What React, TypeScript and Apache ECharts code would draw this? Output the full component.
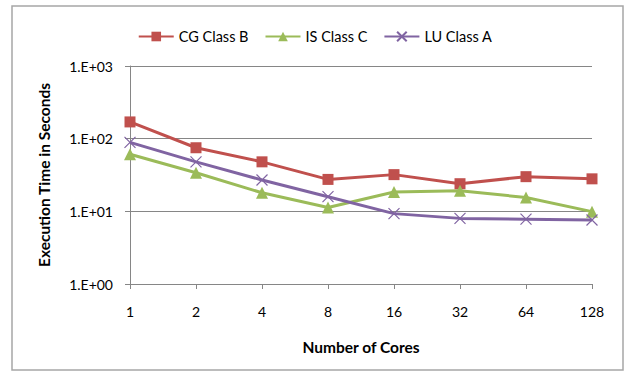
import React, { useEffect, useRef } from "react";
import * as echarts from "echarts";

const categories = ["1", "2", "4", "8", "16", "32", "64", "128"];
const cgClassB = [170, 75, 48, 27.5, 32, 24, 30, 28];
const isClassC = [61, 34, 18, 11.3, 18.5, 19.2, 15.5, 9.9];
const luClassA = [89, 48, 27, 15.9, 9.3, 8.0, 7.8, 7.6];
const seriesNames = ["CG Class B", "IS Class C", "LU Class A"];

const FONT = "Lato";

export default function App() {
  const ref = useRef<HTMLDivElement>(null);
  useEffect(() => {
    const chart = echarts.init(ref.current!, null, { renderer: "svg" });
    const crossPath = "path://M0,0L10,10M10,0L0,10";
    chart.setOption({
      animation: false,
      backgroundColor: "#fff",
      textStyle: { fontFamily: FONT },
      graphic: [
        {
          type: "rect",
          shape: { x: 12, y: 6, width: 611, height: 364 },
          style: { fill: "none", stroke: "#a6a6a6", lineWidth: 1.5 },
          silent: true,
        },
      ],
      legend: {
        top: 24,
        left: "center",
        itemWidth: 35,
        itemHeight: 12,
        itemGap: 16,
        textStyle: { fontFamily: FONT, fontSize: 14.5, color: "#000" },
        data: seriesNames,
      },
      grid: { left: 130, right: 38, top: 66, bottom: 89, containLabel: false },
      xAxis: {
        type: "category",
        data: categories,
        boundaryGap: false,
        name: "Number of Cores",
        nameLocation: "middle",
        nameGap: 55,
        nameTextStyle: { fontFamily: FONT, fontSize: 15.5, fontWeight: "bold", color: "#000" },
        axisLine: { lineStyle: { color: "#868686", width: 1 } },
        axisTick: { show: true, alignWithLabel: true, length: 5, lineStyle: { color: "#868686" } },
        axisLabel: { fontFamily: FONT, fontSize: 14, color: "#000", margin: 20 },
        splitLine: { show: false },
      },
      yAxis: {
        type: "log",
        logBase: 10,
        min: 1,
        max: 1000,
        name: "Execution Time in Seconds",
        nameLocation: "middle",
        nameGap: 78,
        nameRotate: 90,
        nameTextStyle: { fontFamily: FONT, fontSize: 15.5, fontWeight: "bold", color: "#000" },
        axisLine: { show: true, lineStyle: { color: "#868686", width: 1 } },
        axisTick: { show: true, length: 5, lineStyle: { color: "#868686" } },
        minorTick: { show: false },
        axisLabel: {
          fontFamily: FONT,
          fontSize: 14,
          color: "#000",
          margin: 17,
          formatter: (v: number) => {
            const e = Math.round(Math.log10(v));
            return "1.E+" + (e < 10 ? "0" : "") + e;
          },
        },
        splitLine: { show: true, lineStyle: { color: "#868686", width: 1 } },
      },
      series: [
        {
          name: seriesNames[0],
          type: "line",
          data: cgClassB,
          symbol: "rect",
          symbolSize: 11,
          lineStyle: { color: "#C0504D", width: 3 },
          itemStyle: { color: "#C0504D" },
        },
        {
          name: seriesNames[1],
          type: "line",
          data: isClassC,
          symbol: "triangle",
          symbolSize: 12,
          lineStyle: { color: "#9BBB59", width: 3 },
          itemStyle: { color: "#9BBB59" },
        },
        {
          name: seriesNames[2],
          type: "line",
          data: luClassA,
          symbol: crossPath,
          symbolSize: 11,
          lineStyle: { color: "#8064A2", width: 3 },
          itemStyle: { color: "#8064A2", borderColor: "#8064A2", borderWidth: 1.2 },
        },
      ],
    });
    return () => chart.dispose();
  }, []);
  return (
    <div
      ref={ref}
      style={{ position: "fixed", left: 0, top: 0, width: 630, height: 373 }}
    />
  );
}
